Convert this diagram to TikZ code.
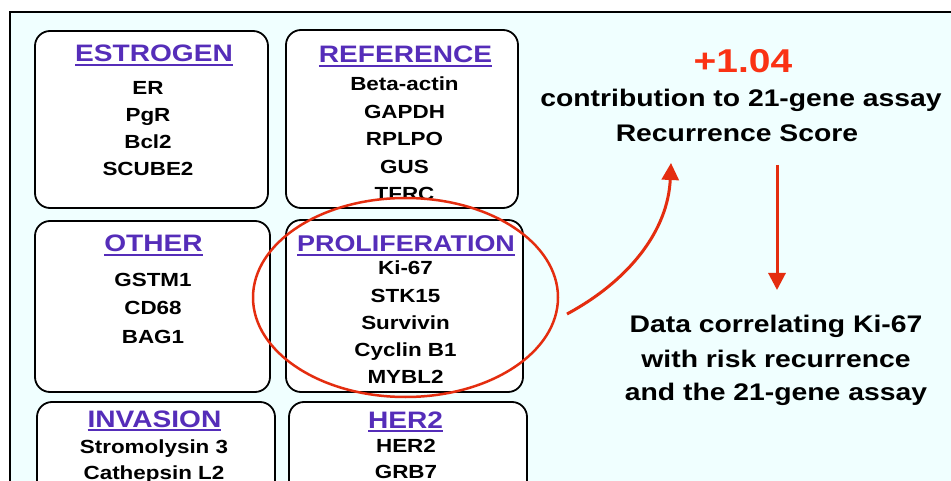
\documentclass[tikz,border=0pt]{standalone}
\usepackage{fontspec}
\setmainfont{Liberation Sans}[FakeStretch=1.18]
\usetikzlibrary{shapes.geometric,arrows.meta}
\definecolor{panel}{RGB}{240,255,255}
\definecolor{titleblue}{RGB}{85,45,185}
\definecolor{accent}{RGB}{228,45,15}
\definecolor{scorered}{RGB}{250,50,20}
% underlined group heading
\newcommand\grouphead[1]{\setbox0\hbox{#1}\rlap{\copy0}\rule[-4pt]{\wd0}{2pt}}
\tikzset{
  groupbox/.style={draw=black, line width=1.8pt, fill=white, rounded corners=15pt, inner sep=0pt},
  gtitle/.style={anchor=base, inner sep=0pt, text=titleblue, font=\fontsize{23.8}{28}\selectfont\bfseries},
  gline/.style={anchor=base, inner sep=0pt, font=\fontsize{19}{23}\selectfont\bfseries},
  bigline/.style={anchor=base, inner sep=0pt, font=\fontsize{24}{30}\selectfont\bfseries},
  redarrow/.style={draw=accent, line width=3pt, -{Triangle[length=17pt,width=17pt]}},
}
\begin{document}
\begin{tikzpicture}[x=1pt, y=-1pt]
\useasboundingbox (0,0) rectangle (951,481);
\clip (0,0) rectangle (951,481);
\fill[white] (0,0) rectangle (951,481);
% panel
\draw[fill=panel, line width=2pt] (10,12) rectangle (970,500);

% gene group boxes
\node[groupbox, minimum width=233pt, minimum height=177pt] (estrogen) at (151.5,119.5) {};
\node[groupbox, minimum width=232pt, minimum height=178pt] (reference) at (402,119) {};
\node[groupbox, minimum width=235pt, minimum height=171pt] (other) at (152.5,306.5) {};
\node[groupbox, minimum width=237pt, minimum height=172pt] (prolif) at (404.5,306) {};
\node[groupbox, minimum width=238pt, minimum height=100pt] (invasion) at (156,452) {};
\node[groupbox, minimum width=238pt, minimum height=100pt] (her2) at (408,452) {};

% headings
\node[gtitle] (estrogen-t) at (154,62) {\grouphead{ESTROGEN}};
\node[gtitle] (reference-t) at (405.5,63) {\grouphead{REFERENCE}};
\node[gtitle] (other-t) at (153.5,252) {\grouphead{OTHER}};
\node[gtitle, font=\fontsize{22.8}{28}\selectfont\bfseries] (prolif-t) at (406,252) {\grouphead{PROLIFERATION}};
\node[gtitle] (invasion-t) at (154.5,427) {\grouphead{INVASION}};
\node[gtitle] (her2-t) at (405.5,428) {\grouphead{HER2}};

% gene lists
\foreach \g [count=\i from 0] in {ER,PgR,Bcl2,SCUBE2}
  \node[gline] (estrogen-\i) at (148,95+27*\i) {\g};
\begin{scope}
  % the last reference gene runs into the lower edge of its box
  \clip (280,25) rectangle (525,199);
  \foreach \g [count=\i from 0] in {Beta-actin,GAPDH,RPLPO,GUS,TFRC}
    \node[gline] (reference-\i) at (404.5,91+27.5*\i) {\g};
\end{scope}
\foreach \g [count=\i from 0] in {GSTM1,CD68,BAG1}
  \node[gline] (other-\i) at (153,287+28*\i) {\g};
\foreach \g [count=\i from 0] in {Ki-67,STK15,Survivin,Cyclin B1,MYBL2}
  \node[gline] (prolif-\i) at (405.5,275+27*\i) {\g};
\foreach \g [count=\i from 0] in {Stromolysin 3,Cathepsin L2}
  \node[gline] (invasion-\i) at (154,453+26*\i) {\g};
\foreach \g [count=\i from 0] in {HER2,GRB7}
  \node[gline] (her2-\i) at (406,452+26*\i) {\g};

% highlight round the proliferation group
\node[draw=accent, line width=2.5pt, ellipse, inner sep=0pt,
      minimum width=305pt, minimum height=199pt] (ring) at (405.5,297.5) {};

% score and outcome texts
\node[bigline, text=scorered, font=\fontsize{33}{36}\selectfont\bfseries] (score) at (743,73) {+1.04};
\node[bigline] (contrib) at (741,107) {contribution to 21-gene assay};
\node[bigline] (rs) at (737,142) {Recurrence Score};
\node[bigline] (data1) at (776,332) {Data correlating Ki-67};
\node[bigline] (data2) at (776,367) {with risk recurrence};
\node[bigline] (data3) at (776,400) {and the 21-gene assay};

% arrows
\coordinate (ringout) at (567,314);
\coordinate (scorein) at (671,163);
\coordinate (scoreout) at (777,165);
\coordinate (datain) at (777,290);
\draw[redarrow] (ringout) .. controls (630,280) and (668,230) .. (scorein);
\draw[redarrow] (scoreout) -- (datain);
\end{tikzpicture}
\end{document}
